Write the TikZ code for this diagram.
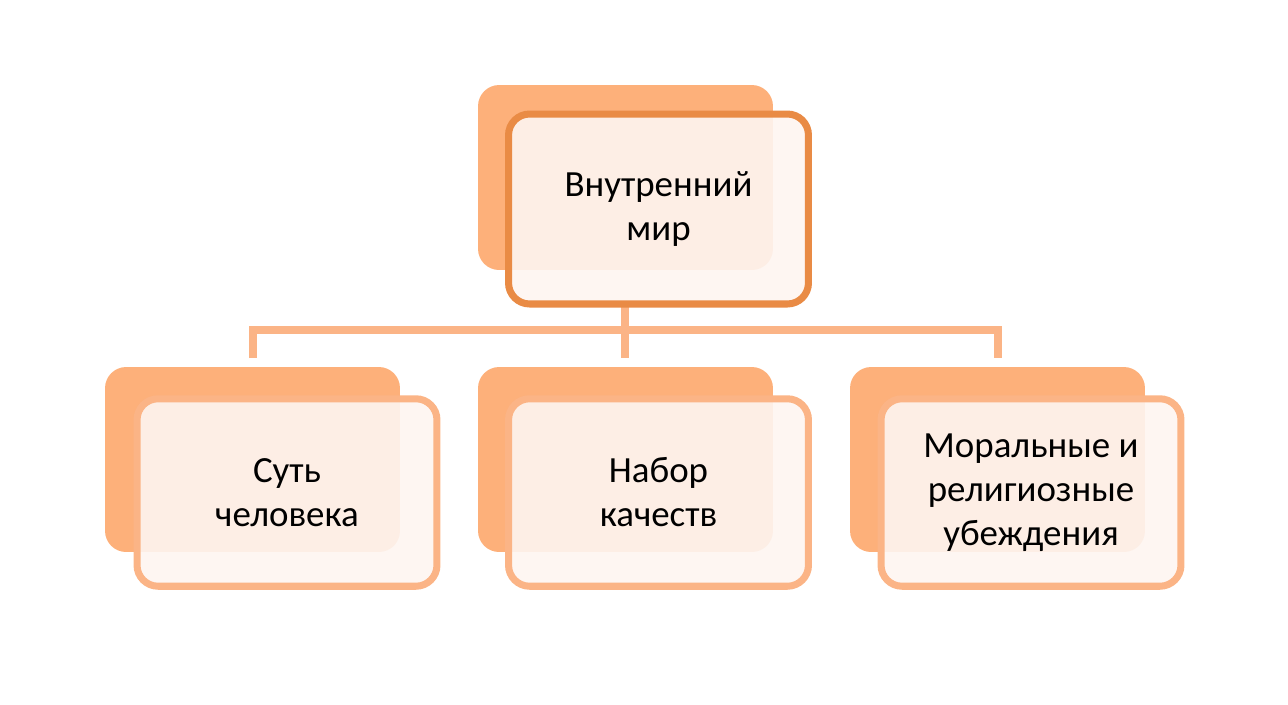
\documentclass[tikz,border=0pt]{standalone}
\usepackage{fontspec}
\setmainfont{Carlito}
\usetikzlibrary{positioning}
\definecolor{backor}{HTML}{FDB07A}
\definecolor{lineor}{HTML}{FBB486}
\definecolor{topor}{HTML}{E98B45}
\definecolor{paleor}{HTML}{FEF5F1}
\begin{document}
\begin{tikzpicture}[x=0.02cm,y=-0.02cm]
    \tikzset{back/.style={fill=backor,rounded corners=12pt,minimum width=5.9cm,minimum height=3.7cm,inner sep=0pt}}
    \tikzset{front/.style={draw=lineor,line width=4pt,fill=paleor,fill opacity=.9,text opacity=1,rounded corners=12pt,minimum width=6.0cm,minimum height=3.75cm,align=center,font=\fontsize{21}{25}\selectfont}}
    \tikzset{link/.style={draw=lineor,line width=4pt}}
    \useasboundingbox (0,0) rectangle (1288,704);
    \node[back] (topback) at (625.5,177.5) {};
    \node[back] (lback) at (252.5,459.5) {};
    \node[back] (mback) at (625.5,459.5) {};
    \node[back] (rback) at (997.5,459.5) {};
    \coordinate (hub) at (625,330);
    \coordinate (lend) at (253,358);
    \coordinate (mend) at (625,358);
    \coordinate (rend) at (998,358);
    \draw[link] (625,305) -- (hub);
    \draw[link] (lend) |- (rend |- hub) -- (rend);
    \draw[link] (hub) -- (mend);
    \node[front,draw=topor,minimum height=3.8cm] (top) at (658.5,209) {Внутренний\\мир};
    \node[front] (suть) at (287,492.5) {Суть\\человека};
    \node[front] (nabor) at (658.5,492.5) {Набор\\качеств};
    \node[front] (moral) at (1031,492.5) {Моральные и\\религиозные\\убеждения};
\end{tikzpicture}
\end{document}
